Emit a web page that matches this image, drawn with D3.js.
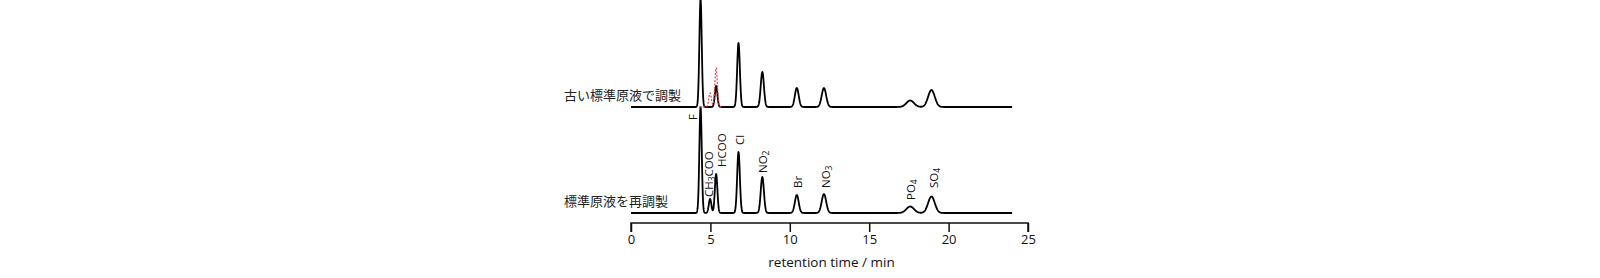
<!DOCTYPE html>
<meta charset="utf-8">
<head>
  <script src="https://d3js.org/d3.v7.min.js"></script>
  <style>
    html, body { margin: 0; padding: 0; background: #fff; }
    svg { display: block; }
    .axis text { font-family: "Open Sans", "Noto Sans", sans-serif; font-size: 13px; fill: #111; }
    .axis path, .axis line { stroke: #111; stroke-width: 1.5; }
    .trace { fill: none; stroke: #000; stroke-width: 1.8; stroke-linejoin: round; }
    .ref { fill: none; stroke: #e8484b; stroke-width: 1.2; stroke-dasharray: 2,1.5; }
    .lab { font-family: "Open Sans", "Noto Sans", sans-serif; font-size: 11.5px; fill: #111; }
    .name { font-family: "Noto Sans CJK JP", sans-serif; font-size: 13px; fill: #222; }
  </style>
</head>
<body>
<svg id="chart"></svg>
<script>
  // peak tables (retention time in min, height, sigma in min)
  const ions = ["F", "CH3COO", "HCOO", "Cl", "NO2", "Br", "NO3", "PO4", "SO4"]
  const peakTimes = [4.38, 4.98, 5.36, 6.77, 8.27, 10.44, 12.15, 17.58, 18.92]
  const peakSigma = [0.075, 0.08, 0.08, 0.085, 0.1, 0.12, 0.14, 0.24, 0.21]
  const newHeights = [106, 14, 39, 61, 36, 18, 19, 6.5, 16.5]   // 標準原液を再調製
  const oldHeights = [108, 0, 21, 64, 35, 19, 19, 6.5, 17]      // 古い標準原液で調製
  const traceNames = ["古い標準原液で調製", "標準原液を再調製"]
  const xTicks = [0, 5, 10, 15, 20, 25]
  // ion label anchors: time of label and signal level of its lower end
  const labelTimes = [3.85, 4.85, 5.65, 6.77, 8.27, 10.44, 12.2, 17.58, 19.02]
  const labelLevels = [93, 16, 46, 68, 40, 25, 25, 13, 25]

  const width = 1600, height = 278
  const tMax = 24, offsetOld = 106, dt = 0.01

  const svg = d3.select("#chart").attr("width", width).attr("height", height)

  const x = d3.scaleLinear().domain([0, 25]).range([631, 1028])
  const y = d3.scaleLinear().domain([0, 213]).range([213, 0])

  function signal(heights, t) {
    let s = 0
    for (let i = 0; i < heights.length; i++) {
      const z = (t - peakTimes[i]) / peakSigma[i]
      s += heights[i] * Math.exp(-0.5 * z * z)
    }
    return s
  }

  function trace(heights, offset, t0, t1) {
    const pts = []
    for (let t = t0; t <= t1 + 1e-9; t += dt) pts.push([t, offset + signal(heights, t)])
    return pts
  }

  const line = d3.line().x(d => x(d[0])).y(d => y(d[1]))

  svg.append("path").attr("class", "trace").attr("d", line(trace(oldHeights, offsetOld, 0, tMax)))
  svg.append("path").attr("class", "trace").attr("d", line(trace(newHeights, 0, 0, tMax)))
  // newly prepared trace overlaid on the old one around the acetate / formate peaks
  const refHeights = newHeights.map((h, i) => (i === 1 || i === 2) ? h : 0)
  svg.append("path").attr("class", "ref").attr("d", line(trace(refHeights, offsetOld, 4.3, 5.8)))

  // trace names
  svg.selectAll("text.name").data(traceNames).join("text")
    .attr("class", "name")
    .attr("x", 564)
    .attr("y", (d, i) => i === 0 ? y(offsetOld + 13) : y(13))
    .attr("dominant-baseline", "central")
    .text(d => d)

  // ion labels, rotated
  const subs = { "CH3COO": ["CH", "3", "COO"], "NO2": ["NO", "2"], "NO3": ["NO", "3"], "PO4": ["PO", "4"], "SO4": ["SO", "4"] }
  ions.forEach((ion, i) => {
    const t = svg.append("text").attr("class", "lab")
      .attr("transform", `translate(${x(labelTimes[i])},${y(labelLevels[i])}) rotate(-90)`)
      .attr("dominant-baseline", "central")
    const parts = subs[ion] || [ion]
    parts.forEach((p, j) => {
      const ts = t.append("tspan").text(p)
      if (j === 1) ts.attr("font-size", "8.5px").attr("dy", 3)
      if (j === 2) ts.attr("dy", -3)
    })
  })

  // x axis
  const axis = svg.append("g").attr("class", "axis")
    .attr("transform", `translate(0,223)`)
    .call(d3.axisBottom(x).tickValues(xTicks).tickSize(9).tickSizeOuter(9).tickPadding(3).tickFormat(d3.format("d")))
  axis.select(".domain").attr("d", `M${x(0)},9V0H${x(25)}V9`)

  svg.append("text").attr("class", "axis")
    .attr("x", (x(0) + x(25)) / 2 + 2)
    .attr("y", 262)
    .attr("text-anchor", "middle")
    .attr("dominant-baseline", "central")
    .style("font-family", "'Open Sans', 'Noto Sans', sans-serif")
    .style("font-size", "13.5px")
    .style("fill", "#111")
    .text("retention time / min")
</script>
</body>
